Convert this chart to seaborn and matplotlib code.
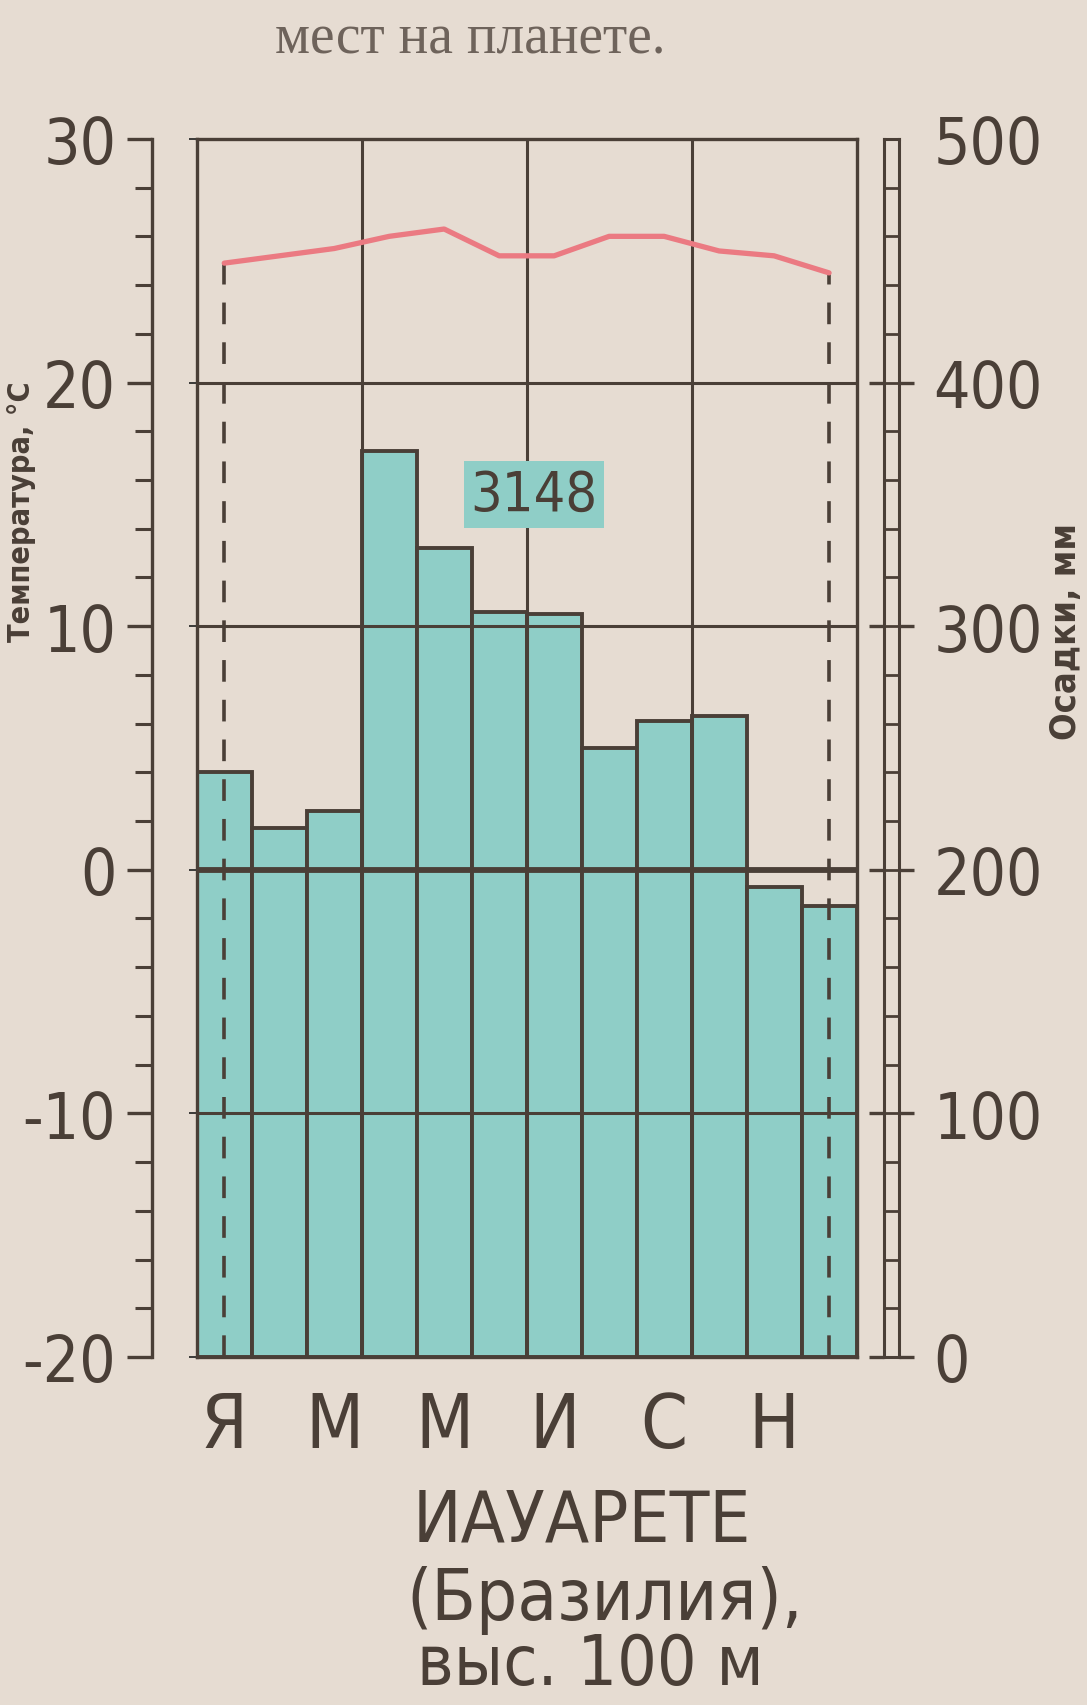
import matplotlib
matplotlib.use('Agg')
import matplotlib.pyplot as plt
from matplotlib import font_manager
from matplotlib.ticker import MultipleLocator
import pandas as pd
import seaborn as sns

# данные климатограммы
month_idx = list(range(12))
month_labels = ['Я', '', 'М', '', 'М', '', 'И', '', 'С', '', 'Н', '']
precip_mm = [240, 217, 224, 372, 332, 306, 305, 250, 261, 263, 193, 185]
temp_c = [24.9, 25.2, 25.5, 26.0, 26.3, 25.2, 25.2, 26.0, 26.0, 25.4, 25.2, 24.5]
annual_total = 3148
temp_ticks = [-20, -10, 0, 10, 20, 30]
precip_ticks = [0, 100, 200, 300, 400, 500]
station = 'ИАУАРЕТЕ'
country = '(Бразилия),'
altitude = 'выс. 100 м'

paper = '#e6dcd2'
ink = '#4a3f37'
teal = '#8fcec7'
red = '#eb7a82'

sns.set_theme(style='white')
avail = {f.name for f in font_manager.fontManager.ttflist}
narrow = 'Liberation Sans Narrow' if 'Liberation Sans Narrow' in avail else 'DejaVu Sans'
plt.rcParams['font.family'] = [narrow, 'DejaVu Sans']
if narrow == 'DejaVu Sans':
    plt.rcParams['font.stretch'] = 'condensed'
plt.rcParams['axes.unicode_minus'] = False

df = pd.DataFrame({'month': month_idx, 'precip': precip_mm, 'temp': temp_c})

fig = plt.figure(figsize=(10.87, 17.06), dpi=100, facecolor=paper)
ax = fig.add_axes([0.181, 0.204, 0.607, 0.714])
ax.set_facecolor(paper)

# столбцы осадков
sns.barplot(data=df, x='month', y='precip', width=1, color=teal, saturation=1,
            edgecolor=ink, linewidth=2.8, ax=ax)
ax.set_ylim(0, 500)
ax.set_xlim(-0.5, 11.5)
ax.set_xlabel('')
ax.set_ylabel('')
ax.set_xticks(month_idx)
ax.set_xticklabels(month_labels)
ax.tick_params(axis='x', length=0, pad=24, labelsize=54, labelcolor=ink)
ax.tick_params(axis='y', left=False, labelleft=False)
for s in ax.spines.values():
    s.set_color(ink)
    s.set_linewidth(2.4)

# температура на второй оси
ax_t = ax.twinx()
ax_t.set_ylim(-20, 30)
for b in [2.5, 5.5, 8.5]:
    ax_t.axvline(b, color=ink, lw=2.2, zorder=1)
for v in temp_ticks[1:-1]:
    ax_t.axhline(v, color=ink, lw=4.2 if v == 0 else 2.2, zorder=1)
sns.lineplot(data=df, x='month', y='temp', color=red, lw=3.8, ax=ax_t, zorder=3)
ax_t.vlines([df.month.iloc[0], df.month.iloc[-1]], -20,
            [df.temp.iloc[0], df.temp.iloc[-1]],
            colors=ink, lw=2.6, linestyles=(0, (6, 5)), zorder=2)
ax_t.text(5.63, 15.4, str(annual_total), ha='center', va='center',
          fontsize=40, color=ink,
          bbox=dict(facecolor=teal, edgecolor='none', pad=5))

ax_t.set_xlabel('')
ax_t.set_ylabel('')
ax_t.yaxis.set_ticks_position('left')
ax_t.set_yticks(temp_ticks)
ax_t.yaxis.set_minor_locator(MultipleLocator(2))
ax_t.spines['left'].set_visible(True)
ax_t.spines['left'].set_position(('outward', 32))
ax_t.spines['left'].set_color(ink)
ax_t.spines['left'].set_linewidth(2.4)
for side in ['right', 'top', 'bottom']:
    ax_t.spines[side].set_visible(False)
ax_t.tick_params(axis='y', which='major', direction='out', length=18, width=2.4,
                 color=ink, labelsize=46, labelcolor=ink, pad=8)
ax_t.tick_params(axis='y', which='minor', direction='out', length=12, width=2.2,
                 color=ink)
ax_t.set_xlim(-0.5, 11.5)

# шкала-лесенка осадков
ax_l = fig.add_axes([0.813, 0.204, 0.014, 0.714])
ax_l.set_facecolor(paper)
ax_l.set_xlim(0, 1)
ax_l.set_ylim(0, 500)
ax_l.set_xticks([])
ax_l.set_yticks(precip_ticks)
ax_l.yaxis.set_minor_locator(MultipleLocator(20))
ax_l.grid(axis='y', which='both', color=ink, lw=2.0)
ax_l.tick_params(axis='y', which='major', left=True, right=True, labelleft=False,
                 labelright=True, direction='out', length=11, width=2.4,
                 color=ink, labelsize=46, labelcolor=ink, pad=14)
ax_l.tick_params(axis='y', which='minor', left=False, right=False)
top_tick = ax_l.yaxis.get_major_ticks()[-1]
top_tick.tick1line.set_visible(False)
top_tick.tick2line.set_visible(False)
for s in ax_l.spines.values():
    s.set_color(ink)
    s.set_linewidth(2.2)

# подписи осей
fig.text(0.981, 0.63, 'Осадки, мм', rotation=90, ha='center', va='center',
         fontsize=26, fontweight='bold', color=ink)
fig.text(0.02, 0.70, 'Температура, °С', rotation=90, ha='center', va='center',
         fontsize=22, fontweight='bold', color=ink)
fig.text(0.612, 0.992, 'мест на планете.', ha='right', va='top',
         fontsize=40, color='#6e635b', family=['Liberation Serif', 'DejaVu Serif'])

# название станции
fig.text(0.535, 0.108, station, ha='center', va='center', fontsize=52, color=ink)
fig.text(0.556, 0.062, country, ha='center', va='center', fontsize=52, color=ink)
fig.text(0.543, 0.004, altitude, ha='center', va='bottom', fontsize=50, color=ink)

fig.savefig('out.png', dpi=100, facecolor=paper)
